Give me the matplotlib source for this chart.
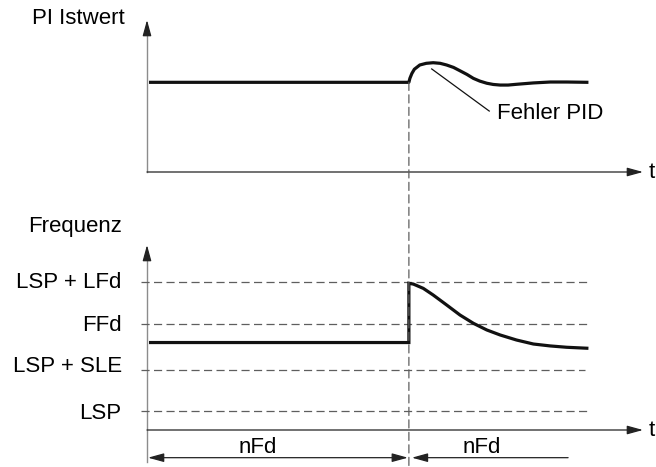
import matplotlib.pyplot as plt
from matplotlib.patches import ConnectionPatch

plt.rcParams['font.family'] = ['Liberation Sans', 'DejaVu Sans']

# time axis: 0..100 (arbitrary units), event where PID error appears
t_event = 52.8

# upper panel: PI actual value (0..100)
pi_t = [0.4, 52.8, 52.8, 53.0, 53.4, 53.9, 55.0, 56.3, 57.7, 59.1, 60.4,
        61.8, 63.1, 64.5, 65.8, 67.1, 68.5, 69.8, 71.2, 72.8, 74.5, 77.9,
        81.3, 84.6, 89.0]
pi_v = [59.0, 59.0, 59.0, 61.6, 64.8, 67.6, 70.4, 71.5, 71.9, 71.5, 70.4,
        68.8, 66.6, 64.2, 61.6, 59.8, 58.4, 57.6, 57.2, 57.2, 57.7, 58.6,
        59.2, 59.2, 59.0]

# lower panel: frequency levels and output frequency
level_names = ['LSP + LFd', 'FFd', 'LSP + SLE', 'LSP']
level_values = [100.0, 71.3, 40.5, 12.8]
level_ends = [89.3, 89.3, 88.3, 89.3]
label_offsets = [0.0, -1.0, 2.7, -1.4]

f_t = [0.4, 52.8, 52.8, 53.7, 55.7, 57.7, 60.4, 63.1, 65.8, 68.5, 71.2,
       74.5, 77.9, 81.3, 84.6, 89.0]
f_v = [59.1, 59.1, 99.1, 98.6, 95.7, 91.2, 84.5, 77.7, 72.1, 67.6, 64.2,
       60.8, 58.1, 56.8, 55.9, 55.2]

axis_col = '#222222'
vaxis_col = '#8c8c8c'
dash_col = '#5e5e5e'

fig = plt.figure(figsize=(6.56, 4.67), dpi=100)
W, H = 656.0, 467.0
ax1 = fig.add_axes([147 / W, (H - 172) / H, 496 / W, 152 / H])
ax2 = fig.add_axes([147 / W, 0.0, 496 / W, 222 / H])
ax1.set_xlim(0, 100)
ax1.set_ylim(0, 100)
ax2.set_xlim(0, 100)
ax2.set_ylim(-25, 125)
for ax in (ax1, ax2):
    ax.axis('off')

head = '-|>,head_length=0.8,head_width=0.22'
arrow = dict(arrowstyle=head, color=axis_col, lw=0.9, shrinkA=0, shrinkB=0,
             mutation_scale=12)


def v_axis(ax, y0, y1):
    # light grey shaft with a dark arrow head
    ax.plot([0, 0], [y0, y1 - 4], color=vaxis_col, lw=1.0, clip_on=False)
    ax.annotate('', xy=(0, y1), xytext=(0, y1 - 6), arrowprops=arrow,
                annotation_clip=False)


# upper axes
ax1.annotate('', xy=(100, 0), xytext=(0, 0), arrowprops=arrow,
             annotation_clip=False)
v_axis(ax1, 0, 100)
ax1.plot(pi_t, pi_v, color='#111111', lw=2.3, solid_capstyle='butt',
         solid_joinstyle='round', clip_on=False)
ax1.text(-4.4, 100.7, 'PI Istwert', ha='right', va='center', fontsize=16)
ax1.text(101.2, 0, 't', ha='left', va='center', fontsize=16)
ax1.plot([57.4, 69.0], [67.8, 40.1], color='#111111', lw=0.9)
ax1.text(70.6, 38.8, 'Fehler PID', ha='left', va='center', fontsize=16)

# lower axes
ax2.annotate('', xy=(100, 0), xytext=(0, 0), arrowprops=arrow,
             annotation_clip=False)
v_axis(ax2, -21.6, 125)
for name, val, end, off in zip(level_names, level_values, level_ends, label_offsets):
    ax2.plot([-1.2, end], [val, val], color=dash_col, lw=0.9,
             linestyle=(0, (6.5, 3.5)), clip_on=False)
    ax2.text(-5.1, val + off, name, ha='right', va='center', fontsize=16)
ax2.plot(f_t, f_v, color='#111111', lw=2.3, solid_capstyle='butt',
         solid_joinstyle='miter', clip_on=False)
ax2.text(-5.0, 137.2, 'Frequenz', ha='right', va='center', fontsize=16,
         clip_on=False)
ax2.text(101.2, 0, 't', ha='left', va='center', fontsize=16)

# nFd time spans
span = dict(color=axis_col, lw=0.9, shrinkA=0, shrinkB=0, mutation_scale=12)
ax2.annotate('', xy=(0.2, -18.7), xytext=(52.6, -18.7),
             arrowprops=dict(arrowstyle='<|-|>,head_length=0.8,head_width=0.22', **span),
             annotation_clip=False)
ax2.annotate('', xy=(53.4, -18.7), xytext=(84.9, -18.7),
             arrowprops=dict(arrowstyle=head, **span),
             annotation_clip=False)
ax2.text(22.4, -12.0, 'nFd', ha='center', va='center', fontsize=16)
ax2.text(67.5, -12.0, 'nFd', ha='center', va='center', fontsize=16)

# event marker through both panels
con = ConnectionPatch(xyA=(t_event, 59.0), coordsA=ax1.transData,
                      xyB=(t_event, -25), coordsB=ax2.transData,
                      color=dash_col, lw=0.9, linestyle=(0, (6.5, 3.5)))
fig.add_artist(con)

fig.savefig('out.png', dpi=100)
